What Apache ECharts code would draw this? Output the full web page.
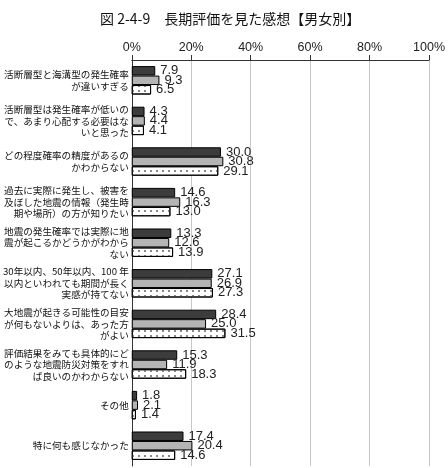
<!DOCTYPE html>
<html><head><meta charset="utf-8">
<script src="https://cdn.jsdelivr.net/npm/echarts@6/dist/echarts.min.js"></script>
<style>html,body{margin:0;padding:0;background:#fff}#c{width:448px;height:468px}</style>
</head><body><div id="c"></div>
<script>
const categories = [
  "活断層型と海溝型の発生確率\nが違いすぎる",
  "活断層型は発生確率が低いの\nで、あまり心配する必要はな\nいと思った",
  "どの程度確率の精度があるの\nかわからない",
  "過去に実際に発生し、被害を\n及ぼした地震の情報（発生時\n期や場所）の方が知りたい",
  "地震の発生確率では実際に地\n震が起こるかどうかがわから\nない",
  "30年以内、50年以内、100 年\n以内といわれても期間が長く\n実感が持てない",
  "大地震が起きる可能性の目安\nが何もないよりは、あった方\nがよい",
  "評価結果をみても具体的にど\nのような地震防災対策をすれ\nば良いのかわからない",
  "その他",
  "特に何も感じなかった"
];
const seriesNames = ["全体", "男性", "女性"];
const valuesAll = [7.9, 4.3, 30.0, 14.6, 13.3, 27.1, 28.4, 15.3, 1.8, 17.4];
const valuesMale = [9.3, 4.4, 30.8, 16.3, 12.6, 26.9, 25.0, 11.9, 2.1, 20.4];
const valuesFemale = [6.5, 4.1, 29.1, 13.0, 13.9, 27.3, 31.5, 18.3, 1.4, 14.6];
const xTicks = [0, 20, 40, 60, 80, 100];

const chart = echarts.init(document.getElementById('c'), null, {renderer: 'canvas'});
const labelCfg = {
  show: true, position: 'right', distance: 5,
  fontFamily: 'Liberation Sans, Arial, sans-serif', fontSize: 13, color: '#222',
  formatter: p => p.value.toFixed(1)
};
function mk(name, data, color, decal) {
  const s = {
    name, type: 'bar', data, barGap: '0%', barCategoryGap: '30%',
    itemStyle: {color, borderColor: '#000', borderWidth: 1},
    label: labelCfg, animation: false
  };
  if (decal) s.itemStyle.decal = decal;
  return s;
}
chart.setOption({
  animation: false,
  title: {
    text: '図 2-4-9　長期評価を見た感想【男女別】',
    left: 95, top: 7,
    textStyle: {fontFamily: 'Noto Sans CJK JP', fontSize: 14, fontWeight: 'normal', color: '#111'}
  },
  grid: {left: 130, right: 14, top: 60, bottom: 2, containLabel: false},
  xAxis: {
    type: 'value', position: 'top', min: xTicks[0], max: xTicks[xTicks.length - 1], interval: 20,
    axisLine: {show: true, lineStyle: {color: '#333'}},
    axisTick: {show: true, length: 5, lineStyle: {color: '#333'}},
    axisLabel: {formatter: '{value}%', fontFamily: 'Liberation Sans, Arial, sans-serif', fontSize: 12.5, color: '#222', margin: 6},
    splitLine: {show: true, lineStyle: {color: '#c8c8c8'}}
  },
  yAxis: {
    type: 'category', inverse: true, data: categories,
    axisLine: {show: true, lineStyle: {color: '#333'}},
    axisTick: {show: false},
    axisLabel: {fontFamily: 'Noto Sans CJK JP', fontSize: 9.6, lineHeight: 11.5, color: '#111', margin: 3, align: 'right'}
  },
  series: [
    mk(seriesNames[0], valuesAll, '#3c3c3c'),
    mk(seriesNames[1], valuesMale, '#b4b4b4'),
    mk(seriesNames[2], valuesFemale, '#ffffff', {
      symbol: 'rect', symbolSize: 1, color: '#888',
      dashArrayX: [[1.5, 3.5]], dashArrayY: [1.5, 2.5], rotation: 0
    })
  ]
});
</script></body></html>
